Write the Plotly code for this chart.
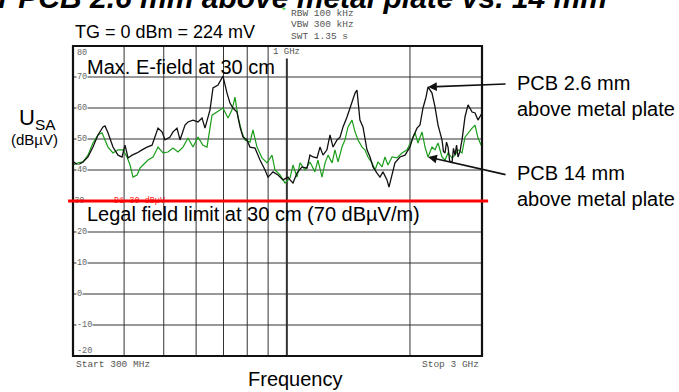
import math
import plotly.graph_objects as go

# Trace for PCB 2.6 mm above the metal plate (black)
black_mhz = [300, 308.6, 317.4, 326.4, 335.7, 345.3, 355.2, 359.2, 365.3, 375.7,
             386.5, 395.3, 402.1, 409, 418.3, 430.2, 442.5, 455.1, 468.1, 476.1,
             484.2, 495.2, 503.6, 518, 526.8, 538.8, 548, 563.6, 573.2, 589.6,
             606.4, 620.2, 630.7, 648.8, 659.8, 678.7, 698, 713.9, 726, 738.4,
             755.3, 768.1, 781.1, 799, 812.5, 835.8, 859.7, 884.3, 899.3, 925,
             951.4, 978.5, 1006.6, 1018, 1035, 1058.7, 1089, 1120, 1139, 1159,
             1185, 1205, 1226, 1253, 1275, 1297, 1326, 1349, 1372, 1403,
             1443, 1468, 1484, 1509, 1535, 1570, 1597, 1624, 1661, 1689,
             1718, 1757, 1777, 1808, 1838, 1891, 1945, 2000, 2034, 2081,
             2116, 2152, 2189, 2214, 2264, 2303, 2342, 2395, 2415, 2436,
             2457, 2478, 2500, 2534, 2555, 2577, 2600, 2621, 2650, 2681,
             2726, 2773, 2837, 2885, 2933, 3000]
black_dbuv = [42.7, 41.6, 42.6, 44.2, 47.4, 51.3, 53.9, 54.2, 52.0, 47.4,
              44.8, 44.2, 48.0, 43.9, 44.8, 45.5, 46.5, 47.4, 48.0, 50.6,
              53.5, 52.3, 49.7, 50.6, 52.3, 53.5, 49.7, 54.5, 55.5, 56.1,
              55.5, 56.8, 53.5, 59.4, 66.5, 67.4, 70.3, 64.8, 61.6, 60.0,
              58.7, 53.9, 50.6, 49.7, 47.4, 47.1, 43.2, 40.0, 37.7, 39.4,
              38.4, 36.8, 37.7, 36.8, 35.8, 39.0, 41.0, 40.6, 44.8, 44.2,
              43.9, 47.4, 44.8, 46.5, 51.3, 47.4, 49.7, 50.6, 53.9, 57.1,
              61.6, 64.8, 65.8, 56.1, 53.9, 46.5, 44.2, 41.0, 39.0, 37.7,
              39.4, 36.8, 34.5, 39.0, 42.3, 44.2, 44.8, 47.4, 50.6, 53.5,
              54.5, 60.0, 63.5, 66.8, 64.8, 60.3, 54.5, 49.7, 46.0, 45.5,
              49.0, 47.4, 43.0, 42.3, 47.0, 44.8, 48.0, 44.2, 46.0, 49.7,
              57.1, 61.0, 58.7, 58.4, 56.1, 58.4]

# Trace for PCB 14 mm above the metal plate (green)
green_mhz = [300, 308.6, 317.4, 326.4, 335.7, 345.3, 353.2, 359.2, 365.3, 375.7,
             386.5, 397.6, 406.6, 413.6, 420.6, 430.2, 437.5, 445, 457.7, 470.8,
             484.2, 497.9, 512.2, 526.8, 541.8, 557.3, 573.2, 589.6, 606.4, 623.7,
             637.9, 656.2, 674.9, 698, 718, 734.3, 746.8, 759.5, 776.8, 790.1,
             812.5, 826.3, 845.3, 869.5, 894.3, 919.8, 935.4, 962.3, 989.8, 1018,
             1035, 1058.7, 1077, 1108, 1139, 1171, 1191, 1219, 1240, 1261,
             1290, 1311, 1334, 1364, 1387, 1411, 1443, 1468, 1493, 1527,
             1552, 1579, 1615, 1643, 1670, 1709, 1737, 1767, 1808, 1859,
             1912, 1967, 2023, 2058, 2092, 2140, 2177, 2214, 2264, 2303,
             2342, 2395, 2436, 2478, 2534, 2577, 2621, 2681, 2726, 2773,
             2837, 2885, 2933, 3000]
green_dbuv = [41.6, 42.3, 42.6, 44.8, 48.7, 51.3, 52.0, 49.7, 47.4, 45.5,
              46.5, 46.5, 44.2, 41.6, 37.7, 38.4, 40.6, 41.6, 43.2, 44.2,
              47.4, 45.5, 45.8, 47.1, 45.8, 47.4, 50.3, 47.4, 50.6, 48.0,
              47.4, 57.7, 58.7, 60.0, 56.8, 59.4, 63.5, 57.1, 52.0, 49.7,
              49.0, 52.9, 47.4, 43.9, 42.3, 44.8, 40.0, 38.4, 35.8, 37.4,
              41.6, 37.7, 42.3, 40.0, 42.6, 39.4, 43.2, 37.7, 42.3, 44.8,
              42.3, 46.5, 42.6, 47.4, 49.7, 53.9, 56.1, 52.3, 49.7, 47.4,
              46.5, 44.2, 42.3, 40.0, 42.6, 41.0, 44.2, 41.6, 44.2, 43.9,
              45.5, 46.5, 49.7, 52.0, 48.7, 52.3, 47.4, 44.2, 47.4, 46.5,
              48.7, 44.2, 43.2, 45.5, 43.9, 44.8, 46.5, 45.5, 50.6, 52.0,
              53.5, 54.5, 50.3, 47.4]

# Frequency grid and level scale
grid_mhz = [400, 500, 600, 700, 800, 900, 2000]
marker_mhz = 1000
level_lines = [70, 60, 50, 40, 30, 20, 10, 0, -10]
level_labels = ["80", "70", "60", "50", "40", "20", "10", "0", "-10", "-20"]
level_values = [80, 70, 60, 50, 40, 20, 10, 0, -10, -20]
limit_dbuv = 30
f_start, f_stop = 300, 3000
y_min, y_max = -20, 80

SANS = "Arial, Liberation Sans, sans-serif"
MONO = "Courier New, Liberation Mono, monospace"

fig = go.Figure()

fig.add_trace(go.Scatter(x=green_mhz, y=green_dbuv, mode="lines",
                         line=dict(color="#1a9e1a", width=1.2), hoverinfo="skip"))
fig.add_trace(go.Scatter(x=black_mhz, y=black_dbuv, mode="lines",
                         line=dict(color="#111111", width=1.3), hoverinfo="skip"))

# Limit-line labels sitting under the red limit line
fig.add_trace(go.Scatter(x=[302, 378], y=[limit_dbuv, limit_dbuv], mode="text",
                         text=["30", "D1 30 dBµV"], textposition="middle right",
                         textfont=dict(family=MONO, size=8.5, color=["#666666", "#ff2020"]),
                         hoverinfo="skip", cliponaxis=False))

shapes = []
for f in grid_mhz:
    shapes.append(dict(type="line", xref="x", yref="paper", x0=f, x1=f, y0=0, y1=1,
                       line=dict(color="#333333", width=1), layer="below"))
for v in level_lines:
    shapes.append(dict(type="line", xref="paper", yref="y", x0=0, x1=1, y0=v, y1=v,
                       line=dict(color="#333333", width=1), layer="below"))
# 1 GHz marker line
shapes.append(dict(type="line", xref="x", yref="y", x0=marker_mhz, x1=marker_mhz,
                   y0=y_min, y1=76, line=dict(color="#333333", width=2), layer="below"))
# Plot frame
shapes.append(dict(type="rect", xref="paper", yref="paper", x0=0, x1=1, y0=0, y1=1,
                   line=dict(color="#111111", width=2.2), layer="above"))
# Legal limit line
shapes.append(dict(type="line", xref="paper", yref="y", x0=-0.012, x1=1.015,
                   y0=limit_dbuv, y1=limit_dbuv, line=dict(color="#ff0000", width=3),
                   layer="above"))

ann = []
for lab, v in zip(level_labels, level_values):
    shift = -7 if v == y_max else (5 if v == y_min else 0)
    ann.append(dict(text=lab, xref="paper", yref="y", x=0, y=v, xanchor="left",
                    yanchor="middle", xshift=3, yshift=shift, showarrow=False,
                    bgcolor="white" if shift == 0 else None, borderpad=0,
                    font=dict(family=MONO, size=8.5, color="#666666")))

def txt(text, x, y, size, xanchor="left", family=SANS, color="#000000", **kw):
    ann.append(dict(text=text, xref="paper", yref="paper", x=x, y=y, xanchor=xanchor,
                    yanchor="middle", showarrow=False, align="left",
                    font=dict(family=family, size=size, color=color), **kw))

txt("<b><i>for PCB 2.6 mm above metal plate vs. 14 mm</i></b>", 1.31, 1.156, 30, xanchor="right")
txt("TG = 0 dBm = 224 mV", 0.0, 1.045, 18)
txt("RBW 100 kHz", 0.528, 1.104, 9.5, family=MONO, color="#555555")
txt("*", 0.527, 1.110, 9.5, xanchor="right", family=MONO, color="#22cc22")
txt("VBW 300 kHz", 0.528, 1.069, 9.5, family=MONO, color="#555555")
txt("SWT 1.35 s", 0.528, 1.032, 9.5, family=MONO, color="#555555")
txt("1 GHz", 0.521, 0.981, 9, xanchor="center", family=MONO, color="#555555")
txt("Max. E-field at 30 cm", 0.029, 0.932, 20)
txt("Legal field limit at 30 cm (70 dBµV/m)", 0.029, 0.458, 20)
txt("Start 300 MHz", 0.002, -0.026, 9.5, family=MONO, color="#555555")
txt("Stop 3 GHz", 0.998, -0.026, 9.5, xanchor="right", family=MONO, color="#555555")
txt("Frequency", 0.543, -0.074, 20, xanchor="center")
txt("U<sub>SA</sub>", -0.088, 0.765, 22, xanchor="center")
txt("(dBµV)", -0.093, 0.700, 15, xanchor="center")
txt("PCB 2.6 mm<br>above metal plate", 1.0807, 0.838, 20)
txt("PCB 14 mm<br>above metal plate", 1.0807, 0.547, 20)

# Arrows pointing at the 2.2 GHz readings of each trace (log axis -> log10 positions)
i_b = black_mhz.index(2214)
i_g = green_mhz.index(2214)
ann.append(dict(x=math.log10(black_mhz[i_b]), y=black_dbuv[i_b], xref="x", yref="y",
                text="", showarrow=True, ax=79, ay=-3, arrowhead=2, arrowsize=1.1,
                arrowwidth=1.6, arrowcolor="#111111", standoff=0))
ann.append(dict(x=math.log10(green_mhz[i_g]), y=green_dbuv[i_g], xref="x", yref="y",
                text="", showarrow=True, ax=79, ay=18, arrowhead=2, arrowsize=1.1,
                arrowwidth=1.6, arrowcolor="#111111", standoff=0))

fig.update_layout(
    width=679, height=392,
    margin=dict(l=73, r=197, t=46, b=36),
    paper_bgcolor="white", plot_bgcolor="white",
    showlegend=False,
    shapes=shapes, annotations=ann,
    xaxis=dict(type="log", range=[math.log10(f_start), math.log10(f_stop)],
               showgrid=False, zeroline=False, showticklabels=False, ticks=""),
    yaxis=dict(range=[y_min, y_max], showgrid=False, zeroline=False,
               showticklabels=False, ticks=""),
)

fig.write_html("out.html")
